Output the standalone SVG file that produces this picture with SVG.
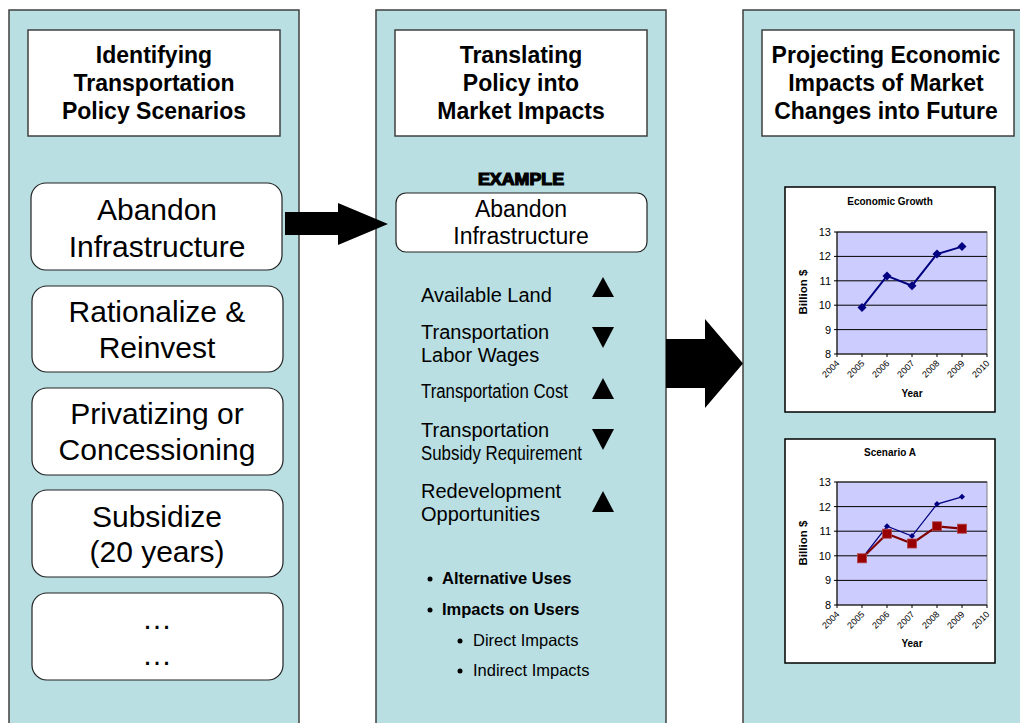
<svg xmlns="http://www.w3.org/2000/svg" width="1020" height="723" viewBox="0 0 1020 723">
<style>
.col{fill:#B9DFE3;stroke:#404040;stroke-width:1.5}
.title{fill:#fff;stroke:#404040;stroke-width:1.5}
.node{fill:#fff;stroke:#222;stroke-width:1.2}
.tt{font-family:"Liberation Sans",Arial,sans-serif;font-weight:bold;font-size:23px;fill:#000;text-anchor:middle}
.nt{font-family:"Liberation Sans",Arial,sans-serif;font-size:30px;fill:#000;text-anchor:middle}
.et{font-family:"Liberation Sans",Arial,sans-serif;font-size:23px;fill:#000;text-anchor:middle}
.it{font-family:"Liberation Sans",Arial,sans-serif;font-size:20px;fill:#000}
.bt{font-family:"Liberation Sans",Arial,sans-serif;font-size:16.5px;fill:#000}
.b{font-weight:bold}
.frame{fill:#fff;stroke:#000;stroke-width:1.5}
.plot{fill:#CCCCFF;stroke:#808080;stroke-width:1}
.grid{stroke:#000;stroke-width:1}
.ax{stroke:#000;stroke-width:1;fill:none}
.ct{font-family:"Liberation Sans",Arial,sans-serif;font-weight:bold;font-size:10px;fill:#000;text-anchor:middle}
.yl{font-family:"Liberation Sans",Arial,sans-serif;font-size:11px;fill:#000;text-anchor:end}
.xl{font-family:"Liberation Sans",Arial,sans-serif;font-size:9px;fill:#000;text-anchor:end}
.blue{fill:none;stroke:#000080;stroke-width:2}
.blue2{fill:none;stroke:#000080;stroke-width:1.2}
.red{fill:none;stroke:#800000;stroke-width:2.2}
.dia{fill:#000080}
.sq{fill:#990000;stroke:#B04040;stroke-width:0.8}
.arrow{fill:#000}
</style>
<rect width="1020" height="723" fill="#fff"/>

<g id="column1">
<rect class="col" x="9" y="10" width="290" height="730"/>
<rect class="title" x="28" y="30" width="252" height="106"/>
<text class="tt" x="154" y="63">Identifying</text>
<text class="tt" x="154" y="91">Transportation</text>
<text class="tt" x="154" y="119">Policy Scenarios</text>
</g>

<g id="column2">
<rect class="col" x="376" y="10" width="290" height="730"/>
<rect class="title" x="395" y="30" width="252" height="106"/>
<text class="tt" x="521" y="63">Translating</text>
<text class="tt" x="521" y="91">Policy into</text>
<text class="tt" x="521" y="119">Market Impacts</text>
</g>

<g id="column3">
<rect class="col" x="743" y="10" width="290" height="730"/>
<rect class="title" x="762" y="30" width="252" height="106"/>
<text class="tt" x="886" y="63">Projecting Economic</text>
<text class="tt" x="886" y="91">Impacts of Market</text>
<text class="tt" x="886" y="119">Changes into Future</text>
</g>

<g id="node-abandon">
<rect class="node" x="31" y="183" width="251" height="87" rx="15"/>
<text class="nt" x="157" y="220">Abandon</text>
<text class="nt" x="157" y="257">Infrastructure</text>
</g>
<g id="node-rationalize">
<rect class="node" x="32" y="286" width="251" height="86" rx="15"/>
<text class="nt" x="157" y="322">Rationalize &amp;</text>
<text class="nt" x="157" y="358">Reinvest</text>
</g>
<g id="node-privatizing">
<rect class="node" x="32" y="388" width="251" height="87" rx="15"/>
<text class="nt" x="157" y="424">Privatizing or</text>
<text class="nt" x="157" y="460">Concessioning</text>
</g>
<g id="node-subsidize">
<rect class="node" x="32" y="490" width="251" height="87" rx="15"/>
<text class="nt" x="157" y="527">Subsidize</text>
<text class="nt" x="157" y="562">(20 years)</text>
</g>
<g id="node-more">
<rect class="node" x="32" y="593" width="251" height="87" rx="15"/>
<text class="nt" x="157" y="629">…</text>
<text class="nt" x="157" y="665">…</text>
</g>

<g id="node-example">
<text x="521" y="185" font-family="'Liberation Sans',Arial,sans-serif" font-weight="bold" font-size="16" text-anchor="middle" stroke="#000" stroke-width="1.2" textLength="86" lengthAdjust="spacingAndGlyphs">EXAMPLE</text>
<rect class="node" x="396" y="193" width="251" height="59" rx="10"/>
<text class="et" x="521" y="217">Abandon</text>
<text class="et" x="521" y="244">Infrastructure</text>
</g>

<g id="node-impacts">
<text class="it" x="421" y="302">Available Land</text>
<text class="it" x="421" y="339">Transportation</text>
<text class="it" x="421" y="362">Labor Wages</text>
<text class="it" x="421" y="398" font-size="18" textLength="147" lengthAdjust="spacingAndGlyphs">Transportation Cost</text>
<text class="it" x="421" y="437">Transportation</text>
<text class="it" x="421" y="460" font-size="18" textLength="161" lengthAdjust="spacingAndGlyphs">Subsidy Requirement</text>
<text class="it" x="421" y="498">Redevelopment</text>
<text class="it" x="421" y="521">Opportunities</text>
<polygon class="arrow" points="592,297 614,297 603,277"/>
<polygon class="arrow" points="592,327 614,327 603,348"/>
<polygon class="arrow" points="592,399 614,399 603,378"/>
<polygon class="arrow" points="592,429 614,429 603,450"/>
<polygon class="arrow" points="592,512 614,512 603,491"/>
</g>

<g id="node-bullets">
<circle cx="430" cy="579" r="2.5"/>
<text class="bt b" x="442" y="584">Alternative Uses</text>
<circle cx="430" cy="610" r="2.5"/>
<text class="bt b" x="442" y="615">Impacts on Users</text>
<circle cx="460" cy="641" r="2.5"/>
<text class="bt" x="473" y="646">Direct Impacts</text>
<circle cx="460" cy="671" r="2.5"/>
<text class="bt" x="473" y="676">Indirect Impacts</text>
</g>

<g id="chart-growth">
<rect class="frame" x="785" y="187" width="210" height="225"/>
<text class="ct" x="890" y="205">Economic Growth</text>
<rect class="plot" x="837" y="232" width="150" height="122"/>
<g class="grid">
<line x1="837" y1="232" x2="987" y2="232"/>
<line x1="837" y1="256.4" x2="987" y2="256.4"/>
<line x1="837" y1="280.8" x2="987" y2="280.8"/>
<line x1="837" y1="305.2" x2="987" y2="305.2"/>
<line x1="837" y1="329.6" x2="987" y2="329.6"/>
</g>
<path class="ax" d="M837,232 V354 H987 M834,232 H837 M834,256.4 H837 M834,280.8 H837 M834,305.2 H837 M834,329.6 H837 M834,354 H837 M837,354 V357 M862,354 V357 M887,354 V357 M912,354 V357 M937,354 V357 M962,354 V357 M987,354 V357"/>
<text class="yl" x="831" y="236">13</text>
<text class="yl" x="831" y="260.4">12</text>
<text class="yl" x="831" y="284.8">11</text>
<text class="yl" x="831" y="309.2">10</text>
<text class="yl" x="831" y="333.6">9</text>
<text class="yl" x="831" y="358">8</text>
<text class="ct" transform="translate(807,292) rotate(-90)" font-size="11" textLength="45" lengthAdjust="spacingAndGlyphs">Billion $</text>
<text class="xl" transform="translate(840,364) rotate(-45)">2004</text>
<text class="xl" transform="translate(865,364) rotate(-45)">2005</text>
<text class="xl" transform="translate(890,364) rotate(-45)">2006</text>
<text class="xl" transform="translate(915,364) rotate(-45)">2007</text>
<text class="xl" transform="translate(940,364) rotate(-45)">2008</text>
<text class="xl" transform="translate(965,364) rotate(-45)">2009</text>
<text class="xl" transform="translate(990,364) rotate(-45)">2010</text>
<text class="ct" x="912" y="397">Year</text>
<polyline class="blue" points="862,307.6 887,275.9 912,285.7 937,254 962,246.6"/>
<g class="dia">
<polygon points="862,303.1 866.5,307.6 862,312.1 857.5,307.6"/>
<polygon points="887,271.4 891.5,275.9 887,280.4 882.5,275.9"/>
<polygon points="912,281.2 916.5,285.7 912,290.2 907.5,285.7"/>
<polygon points="937,249.5 941.5,254 937,258.5 932.5,254"/>
<polygon points="962,242.1 966.5,246.6 962,251.1 957.5,246.6"/>
</g>
</g>

<g id="chart-scenario">
<rect class="frame" x="785" y="439" width="210" height="224"/>
<text class="ct" x="890" y="456">Scenario A</text>
<rect class="plot" x="837" y="482" width="150" height="123"/>
<g class="grid">
<line x1="837" y1="482" x2="987" y2="482"/>
<line x1="837" y1="506.6" x2="987" y2="506.6"/>
<line x1="837" y1="531.2" x2="987" y2="531.2"/>
<line x1="837" y1="555.8" x2="987" y2="555.8"/>
<line x1="837" y1="580.4" x2="987" y2="580.4"/>
</g>
<path class="ax" d="M837,482 V605 H987 M834,482 H837 M834,506.6 H837 M834,531.2 H837 M834,555.8 H837 M834,580.4 H837 M834,605 H837 M837,605 V608 M862,605 V608 M887,605 V608 M912,605 V608 M937,605 V608 M962,605 V608 M987,605 V608"/>
<text class="yl" x="831" y="486">13</text>
<text class="yl" x="831" y="510.6">12</text>
<text class="yl" x="831" y="535.2">11</text>
<text class="yl" x="831" y="559.8">10</text>
<text class="yl" x="831" y="584.4">9</text>
<text class="yl" x="831" y="609">8</text>
<text class="ct" transform="translate(807,543) rotate(-90)" font-size="11" textLength="45" lengthAdjust="spacingAndGlyphs">Billion $</text>
<text class="xl" transform="translate(840,615) rotate(-45)">2004</text>
<text class="xl" transform="translate(865,615) rotate(-45)">2005</text>
<text class="xl" transform="translate(890,615) rotate(-45)">2006</text>
<text class="xl" transform="translate(915,615) rotate(-45)">2007</text>
<text class="xl" transform="translate(940,615) rotate(-45)">2008</text>
<text class="xl" transform="translate(965,615) rotate(-45)">2009</text>
<text class="xl" transform="translate(990,615) rotate(-45)">2010</text>
<text class="ct" x="912" y="647">Year</text>
<polyline class="blue2" points="862,558.3 887,526.3 912,536.1 937,504.1 962,496.8"/>
<g class="dia">
<polygon points="862,555.3 865,558.3 862,561.3 859,558.3"/>
<polygon points="887,523.3 890,526.3 887,529.3 884,526.3"/>
<polygon points="912,533.1 915,536.1 912,539.1 909,536.1"/>
<polygon points="937,501.1 940,504.1 937,507.1 934,504.1"/>
<polygon points="962,493.8 965,496.8 962,499.8 959,496.8"/>
</g>
<polyline class="red" points="862,558.3 887,533.7 912,543.5 937,526.3 962,528.7"/>
<g>
<rect class="sq" x="857.5" y="553.8" width="9" height="9"/>
<rect class="sq" x="882.5" y="529.2" width="9" height="9"/>
<rect class="sq" x="907.5" y="539" width="9" height="9"/>
<rect class="sq" x="932.5" y="521.8" width="9" height="9"/>
<rect class="sq" x="957.5" y="524.2" width="9" height="9"/>
</g>
</g>

<g id="connectors">
<polygon class="arrow" points="285,212 338,212 338,203 388,224 338,245 338,235 285,235"/>
<polygon class="arrow" points="666,339 705,339 705,319 743,363.5 705,408 705,388 666,388"/>
</g>
</svg>
